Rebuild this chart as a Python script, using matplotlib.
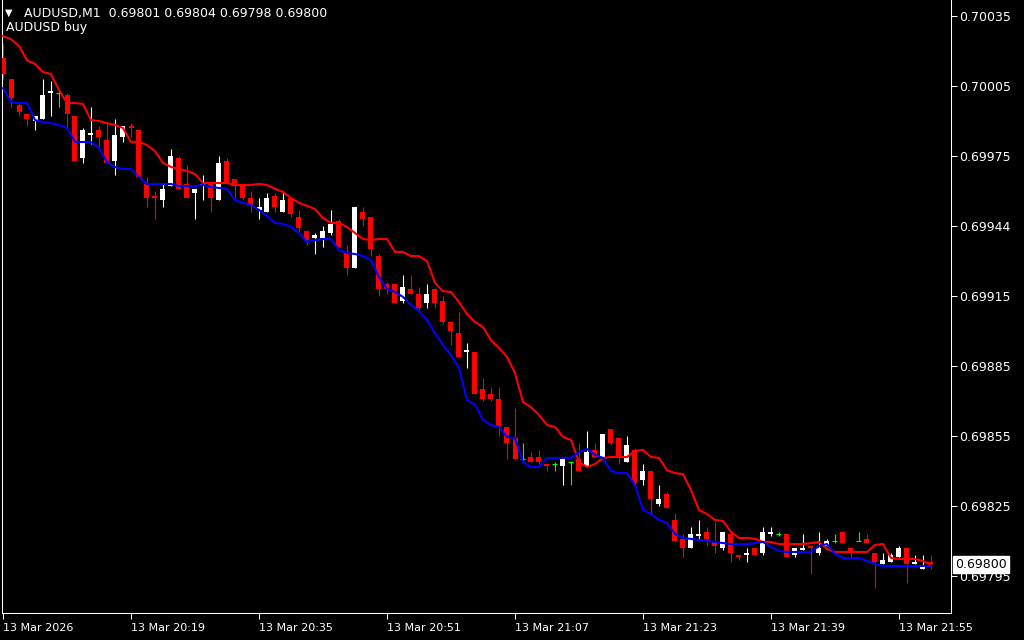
import matplotlib
matplotlib.use("Agg")
import matplotlib.pyplot as plt
import numpy as np

# AUDUSD M1, prices in points (1e-5)
open_pts = [70017, 70008, 69997, 69993, 69990, 69991, 70002, 70002, 70001, 69992,
            69974, 69984, 69986, 69982, 69973, 69983, 69988, 69986, 69963, 69958,
            69956, 69962, 69974, 69963, 69959, 69962, 69963, 69956, 69973, 69965,
            69962, 69957, 69952, 69951, 69958, 69951, 69957, 69949, 69943, 69940,
            69940, 69942, 69947, 69934, 69927, 69951, 69949, 69932, 69920, 69920,
            69913, 69918, 69916, 69912, 69918, 69913, 69904, 69899, 69891, 69891,
            69875, 69873, 69871, 69859, 69854, 69845, 69846, 69846, 69843, 69843,
            69842, 69844, 69845, 69842, 69849, 69846, 69858, 69854, 69844, 69849,
            69836, 69840, 69826, 69830, 69819, 69811, 69807, 69812, 69814, 69810,
            69807, 69813, 69804, 69804, 69807, 69805, 69813, 69813, 69813, 69804,
            69806, 69808, 69805, 69808, 69810, 69814, 69807, 69810, 69811, 69805,
            69800, 69801, 69803, 69807, 69800, 69798, 69801]
high_pts = [70023, 70008, 69998, 69993, 69992, 70008, 70007, 70003, 70002, 69992,
            69987, 69996, 69988, 69989, 69991, 69988, 69989, 69986, 69966, 69960,
            69963, 69978, 69975, 69971, 69961, 69967, 69963, 69975, 69974, 69965,
            69963, 69960, 69957, 69959, 69959, 69960, 69957, 69952, 69943, 69942,
            69945, 69952, 69948, 69937, 69953, 69953, 69949, 69933, 69921, 69920,
            69924, 69924, 69919, 69920, 69918, 69915, 69904, 69908, 69895, 69891,
            69880, 69876, 69876, 69859, 69867, 69852, 69848, 69849, 69843, 69844,
            69846, 69844, 69852, 69857, 69852, 69856, 69858, 69854, 69855, 69850,
            69843, 69840, 69834, 69831, 69822, 69813, 69816, 69819, 69816, 69818,
            69814, 69813, 69804, 69807, 69807, 69816, 69816, 69814, 69813, 69807,
            69813, 69808, 69814, 69811, 69813, 69814, 69807, 69814, 69813, 69805,
            69805, 69805, 69808, 69807, 69804, 69804, 69804]
low_pts = [70008, 69996, 69992, 69988, 69986, 69991, 69992, 69996, 69987, 69973,
           69972, 69980, 69979, 69972, 69967, 69981, 69983, 69966, 69953, 69948,
           69953, 69962, 69961, 69957, 69948, 69956, 69951, 69956, 69963, 69957,
           69956, 69951, 69948, 69951, 69951, 69951, 69949, 69942, 69937, 69933,
           69936, 69941, 69936, 69924, 69927, 69945, 69932, 69915, 69916, 69912,
           69912, 69916, 69909, 69910, 69910, 69903, 69894, 69889, 69884, 69873,
           69870, 69870, 69855, 69845, 69845, 69844, 69844, 69843, 69840, 69840,
           69834, 69834, 69840, 69842, 69846, 69846, 69851, 69843, 69844, 69834,
           69834, 69822, 69825, 69824, 69810, 69803, 69807, 69811, 69808, 69805,
           69806, 69801, 69802, 69801, 69804, 69804, 69812, 69812, 69803, 69803,
           69806, 69796, 69804, 69808, 69809, 69809, 69803, 69810, 69809, 69790,
           69800, 69801, 69803, 69792, 69800, 69798, 69798]
close_pts = [70010, 70000, 69994, 69991, 69992, 70001, 70003, 70002, 69993, 69973,
             69986, 69985, 69983, 69972, 69984, 69988, 69987, 69966, 69957, 69957,
             69961, 69975, 69961, 69957, 69961, 69963, 69957, 69972, 69963, 69962,
             69957, 69954, 69953, 69957, 69953, 69956, 69950, 69944, 69939, 69941,
             69943, 69946, 69936, 69927, 69953, 69948, 69935, 69918, 69918, 69912,
             69919, 69916, 69910, 69916, 69912, 69904, 69900, 69889, 69892, 69873,
             69871, 69871, 69859, 69852, 69845, 69845, 69844, 69844, 69842, 69843,
             69845, 69844, 69840, 69848, 69846, 69856, 69852, 69846, 69851, 69835,
             69840, 69828, 69828, 69824, 69810, 69807, 69813, 69813, 69811, 69808,
             69814, 69805, 69803, 69805, 69804, 69814, 69814, 69813, 69803, 69807,
             69807, 69807, 69807, 69810, 69810, 69809, 69805, 69810, 69809, 69801,
             69802, 69804, 69807, 69800, 69801, 69799, 69800]

upper_line = [70026.4, 70025.1, 70022.1, 70016.1, 70014.4, 70011.0, 70010.1, 70003.3, 69997.7, 69997.7,
              69997.3, 69990.4, 69990.0, 69989.1, 69988.3, 69987.0, 69981.0, 69981.0, 69979.7, 69977.1,
              69972.0, 69970.3, 69969.4, 69968.6, 69967.3, 69963.4, 69963.4, 69963.4, 69963.4, 69962.6,
              69962.6, 69962.6, 69963.0, 69962.6, 69960.9, 69959.6, 69957.0, 69954.9, 69953.6, 69952.3,
              69948.4, 69946.3, 69946.3, 69944.6, 69942.0, 69939.4, 69939.0, 69939.4, 69939.4, 69933.9,
              69933.9, 69932.1, 69932.1, 69930.0, 69920.6, 69917.1, 69916.7, 69912.4, 69907.3, 69903.9,
              69901.7, 69896.1, 69892.7, 69888.9, 69882.0, 69869.6, 69867.4, 69864.0, 69859.7, 69858.9,
              69854.6, 69853.3, 69843.9, 69841.7, 69843.0, 69845.6, 69846.0, 69846.0, 69846.0, 69848.6,
              69849.0, 69846.0, 69845.6, 69840.4, 69839.1, 69838.7, 69831.9, 69823.3, 69821.6, 69819.0,
              69818.6, 69813.9, 69811.3, 69811.3, 69810.9, 69809.6, 69809.6, 69808.7, 69808.7, 69808.7,
              69808.7, 69809.1, 69809.6, 69806.6, 69805.3, 69805.3, 69805.3, 69805.3, 69805.3, 69808.3,
              69808.7, 69802.7, 69802.3, 69802.3, 69802.3, 69801.4, 69799.7]
lower_line = [70004.1, 69998.1, 69997.7, 69997.7, 69990.4, 69989.6, 69989.1, 69988.3, 69987.0, 69981.0,
              69981.0, 69981.0, 69978.4, 69972.4, 69970.3, 69969.4, 69969.4, 69966.0, 69963.0, 69963.0,
              69963.0, 69963.0, 69962.1, 69962.1, 69962.1, 69962.6, 69961.7, 69961.3, 69960.9, 69956.1,
              69954.9, 69954.0, 69951.9, 69949.3, 69946.3, 69945.9, 69944.6, 69942.0, 69938.1, 69939.0,
              69939.4, 69939.4, 69934.7, 69933.4, 69933.0, 69932.1, 69930.4, 69923.1, 69918.0, 69916.7,
              69914.6, 69911.1, 69908.6, 69904.7, 69899.1, 69894.0, 69889.7, 69884.1, 69870.4, 69868.3,
              69861.9, 69859.7, 69858.9, 69854.6, 69854.1, 69843.9, 69841.7, 69841.7, 69845.6, 69845.6,
              69845.6, 69845.6, 69848.1, 69849.4, 69846.9, 69845.6, 69840.0, 69839.1, 69839.1, 69834.0,
              69823.3, 69821.6, 69819.0, 69817.7, 69813.0, 69811.3, 69810.9, 69810.4, 69810.0, 69809.6,
              69809.1, 69808.7, 69808.7, 69808.7, 69809.1, 69809.6, 69807.4, 69805.7, 69805.3, 69805.3,
              69805.3, 69805.3, 69807.9, 69808.7, 69804.4, 69802.7, 69802.7, 69802.7, 69801.4, 69800.1,
              69799.3, 69799.3, 69799.3, 69799.3, 69799.3, 69799.3, 69799.3]

price_ticks = [0.70035, 0.70005, 0.69975, 0.69945, 0.69915, 0.69885, 0.69855, 0.69825, 0.69795]
price_labels = ["0.70035", "0.70005", "0.69975", "0.69944", "0.69915",
                "0.69885", "0.69855", "0.69825", "0.69795"]
time_tick_bars = [0, 16, 32, 48, 64, 80, 96, 112]
time_labels = ["13 Mar 2026", "13 Mar 20:19", "13 Mar 20:35", "13 Mar 20:51",
               "13 Mar 21:07", "13 Mar 21:23", "13 Mar 21:39", "13 Mar 21:55"]
symbol = "AUDUSD,M1"
last_close = 0.69800

o = np.array(open_pts) / 1e5
h = np.array(high_pts) / 1e5
l = np.array(low_pts) / 1e5
c = np.array(close_pts) / 1e5
up = np.array(upper_line) / 1e5
dn = np.array(lower_line) / 1e5
x = np.arange(len(o))

fig = plt.figure(figsize=(10.24, 6.4), dpi=100, facecolor="black")
ax = fig.add_axes([2 / 1024, 27 / 640, 949 / 1024, 613 / 640], facecolor="black")

colors = np.where(c > o, "white", np.where(c < o, "#ff0000", "#00ff00"))
ax.vlines(x, l, h, colors=colors, linewidth=0.8, zorder=2)

body_w = 0.625
min_h = 2.5e-6
bottoms = np.minimum(o, c)
heights = np.maximum(np.abs(c - o), min_h)
mask = c != o
ax.bar(x[mask], heights[mask], bottom=bottoms[mask], width=body_w,
       color=colors[mask], linewidth=0, zorder=3)
doji = ~mask
ax.hlines(o[doji], x[doji] - body_w / 2, x[doji] + body_w / 2,
          colors="#00ff00", linewidth=0.8, zorder=3)

ax.plot(x, up, color="#ff0000", linewidth=1.5, zorder=4)
ax.plot(x, dn, color="#0000ff", linewidth=1.5, zorder=4)

ax.set_xlim(-0.125, 118.5)
ax.set_ylim(0.6977914, 0.7004186)

ax.yaxis.tick_right()
ax.set_yticks(price_ticks)
ax.set_yticklabels(price_labels)
ax.set_xticks(time_tick_bars)
ax.set_xticklabels(time_labels, ha="left")
ax.tick_params(axis="y", colors="white", labelsize=9, length=4, width=0.75, pad=1.5)
ax.tick_params(axis="x", colors="white", labelsize=8, length=4, width=0.75, pad=3)
for s in ["left", "bottom", "right"]:
    ax.spines[s].set_color("white")
    ax.spines[s].set_linewidth(0.75)
ax.spines["top"].set_visible(False)

ax.text(1.004, last_close, f"{last_close:.5f}", transform=ax.get_yaxis_transform(),
        color="black", fontsize=9, va="center", ha="left",
        bbox=dict(boxstyle="square,pad=0.18", facecolor="white", edgecolor="white"), zorder=10)

fig.text(5 / 1024, 1 - 13 / 640, "\u25bc", color="white", fontsize=7, va="center")
fig.text(24 / 1024, 1 - 13 / 640,
         f"{symbol}  {o[-1]:.5f} {h[-1]:.5f} {l[-1]:.5f} {c[-1]:.5f}",
         color="white", fontsize=9, va="center")
fig.text(6 / 1024, 1 - 27 / 640, "AUDUSD buy", color="white", fontsize=9, va="center")

fig.savefig("out.png", dpi=100, facecolor="black")
